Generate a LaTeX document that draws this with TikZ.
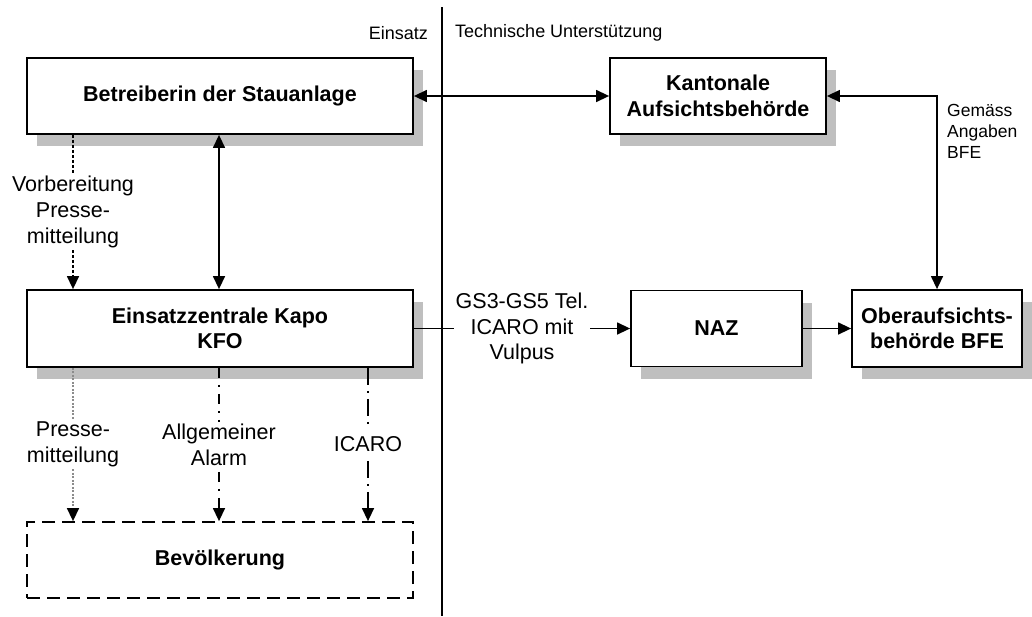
\documentclass[tikz,border=0pt]{standalone}
\usepackage{fontspec}
\setmainfont{Liberation Sans}
\usetikzlibrary{arrows.meta,shadows}
\begin{document}
\begin{tikzpicture}[x=1pt,y=-1pt,
  box/.style={draw, line width=1.8pt, fill=white, align=center, inner sep=1pt,
    font=\fontsize{21.5}{25.5}\selectfont\bfseries,
    drop shadow={shadow xshift=10pt, shadow yshift=-12pt, opacity=1, fill=black!25}},
  dbox/.style={draw, line width=1.8pt, dash pattern=on 13pt off 7pt, align=center,
    font=\fontsize{21.5}{25.5}\selectfont\bfseries},
  lbl/.style={fill=white, text=black, align=center, inner sep=2pt, font=\fontsize{21.5}{25.7}\selectfont},
  small/.style={inner sep=0pt, font=\fontsize{18}{21}\selectfont},
  tiny/.style={inner sep=0pt, align=left, font=\fontsize{17.5}{21}\selectfont},
  conn/.style={line width=1.4pt},
  >={Triangle[length=13pt,width=12pt]},
  vorb/.style={conn, dash pattern=on 3pt off 2pt},
  presse/.style={conn, black!45, dash pattern=on 2pt off 1.5pt},
  alarm/.style={conn, dash pattern=on 10pt off 7pt on 2pt off 7pt},
  icaro/.style={conn, dash pattern=on 17pt off 6pt on 2pt off 6pt}
]
\fill[white] (0,0) rectangle (1032,616);
\useasboundingbox (0,0) rectangle (1032,616);

% separator
\coordinate (septop) at (442,7);
\coordinate (sepbot) at (442,616);
\draw[line width=1.4pt] (septop) -- (sepbot);
\node[small, anchor=east] (einsatz) at (428,33) {Einsatz};
\node[small, anchor=west] (technik) at (455,33) {Technische Unterstützung};

% boxes
\node[box, minimum width=386pt, minimum height=76pt] (bet) at (220,96) {Betreiberin der Stauanlage};
\node[box, minimum width=216pt, minimum height=76pt] (kant) at (718,96) {Kantonale\\Aufsichtsbehörde};
\node[box, minimum width=386pt, minimum height=77pt] (ez) at (220,328.5) {Einsatzzentrale Kapo\\KFO};
\node[box, minimum width=171pt, minimum height=76pt] (naz) at (716.5,328.5) {NAZ};
\node[box, minimum width=170pt, minimum height=77pt] (ober) at (937,328.5) {Oberaufsichts-\\behörde BFE};
\node[dbox, minimum width=386pt, minimum height=76pt] (bev) at (220,560) {Bevölkerung};

% x positions of vertical connectors
\coordinate (xa) at (73,0);
\coordinate (xb) at (219,0);
\coordinate (xc) at (368,0);

% connectors
\draw[conn, <->] (bet.east) -- (kant.west);
\draw[conn, <->] (kant.east) -| (ober.north);
\node[tiny, anchor=west] (gemaess) at (947,131) {Gemäss\\Angaben\\BFE};
\draw[conn, <->] (bet.south -| xb) -- (ez.north -| xb);
\draw[vorb, ->] (bet.south -| xa) -- node[lbl] (vlbl) {Vorbereitung\\Presse-\\mitteilung} (ez.north -| xa);
\draw[conn, ->] (ez.east) -- node[lbl] (glbl) {GS3-GS5 Tel.\\ICARO mit\\Vulpus} (naz.west);
\draw[conn, ->] (naz.east) -- (ober.west);
\draw[presse, -{Triangle[length=13pt,width=12pt,color=black]}] (ez.south -| xa) -- node[lbl] (plbl) {Presse-\\mitteilung} (bev.north -| xa);
\draw[alarm, ->] (ez.south -| xb) -- node[lbl] (albl) {Allgemeiner\\Alarm} (bev.north -| xb);
\draw[icaro, ->] (ez.south -| xc) -- node[lbl, inner ysep=8pt] (ilbl) {ICARO} (bev.north -| xc);
\end{tikzpicture}
\end{document}
